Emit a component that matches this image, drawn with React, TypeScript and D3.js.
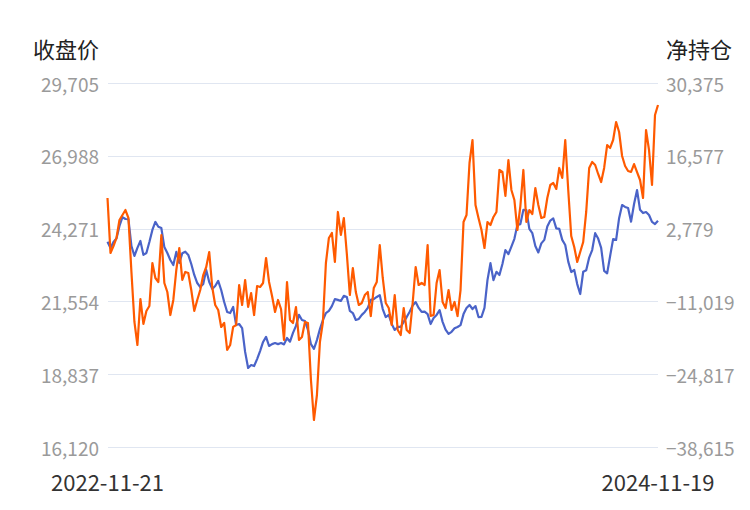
import React from "react";
import * as d3 from "d3";

const startDate = "2022-11-21";
const endDate = "2024-11-19";
const leftTitle = "收盘价";
const rightTitle = "净持仓";
const leftTicks = [16120, 18837, 21554, 24271, 26988, 29705];
const rightTicks = [-38615, -24817, -11019, 2779, 16577, 30375];

const closePrice = [
  23780, 23550, 23770, 23900, 24370, 24700, 24630, 24620, 23620, 23250,
  23550, 23810, 23290, 23360, 23770, 24220, 24520, 24340, 24290, 23580,
  23360, 23100, 22910, 23400, 22990, 23350, 23410, 23290, 22950, 22540,
  22240, 22090, 22200, 22730, 22280, 22020, 22130, 22320, 21980, 21530,
  21160, 21120, 21350, 20670, 20710, 20560, 19670, 19070, 19180, 19140,
  19400, 19700, 20040, 20230, 19890, 19960, 20000, 19960, 20000, 19950,
  20190, 20050, 20380, 20640, 21050, 20860, 20820, 20490, 19960, 19780,
  20110, 20520, 20860, 21120, 21200, 21380, 21640, 21610, 21570, 21760,
  21720, 21200, 21120, 20860, 20900, 21050, 21160, 21310, 21610, 21640,
  21720, 21790, 21270, 20970, 21050, 20710, 20490, 20600, 20600, 20790,
  20970, 21170, 21400, 21530, 21310, 21160, 21170, 21080, 20710, 20930,
  21050, 21230, 20790, 20500, 20340, 20420, 20550, 20600, 20670, 21080,
  21310, 21420, 21270, 21380, 20970, 20980, 21310, 22350, 22980, 22350,
  22660, 22540, 22950, 23470, 23320, 23600, 23890, 24410, 24440, 24970,
  24960, 24260, 24100, 23620, 23380, 23720, 23850, 24350, 24570, 24650,
  24280, 24260, 23850, 23660, 23040, 22650, 22730, 22200, 21830, 22660,
  22720, 23190, 23470, 24100, 23900, 23550, 22690, 22600, 23250, 23880,
  23850, 24660, 25150, 25080, 25040, 24530, 25190, 25710, 24970, 24850,
  24890, 24780, 24520, 24440, 24560,
];

const netPosition = [
  8580, -1850, -520, 1000, 4410, 5360, 6300, 4790, -5450, -14920,
  -19280, -10560, -15300, -12840, -11890, -3740, -6580, -7340, 1570, -7530,
  -9240, -13600, -10750, -5070, -900, -6960, -5440, -5640, -8860, -12830,
  -10750, -8860, -6020, -4500, -1660, -8290, -11700, -12650, -15870, -15110,
  -20230, -19280, -15860, -15490, -7910, -11700, -6960, -12080, -9430, -13600,
  -8100, -8290, -7530, -2790, -7340, -10000, -13030, -10750, -12460, -18330,
  -7340, -14540, -15110, -12080, -18330, -17770, -14920, -15110, -25920, -33500,
  -28760, -18710, -14920, -3740, 1000, 1950, -3550, 5930, 1570, 4790,
  -2040, -9810, -4690, -9240, -11700, -11320, -9810, -9240, -13790, -8480,
  -7340, -330, -6580, -11320, -12270, -15490, -9810, -16440, -17390, -12270,
  -16440, -17010, -11320, -4500, -7910, -7530, -7910, -330, -13790, -13600,
  -7530, -5070, -11130, -12270, -8860, -12650, -11130, -13790, -8860, 4030,
  5360, 15210, 19570, 7250, 4790, 2510, -900, 4030, 3460, 4980,
  5930, 13890, 13510, 8960, 15780, 10100, 8200, 2510, 7060, 13890,
  4030, 6300, 5550, 10470, 7250, 4790, 4980, 8580, 11040, 11420,
  10290, 14270, 12370, 19570, 10100, 1380, -710, -3550, -1660, 240,
  5930, 14270, 15400, 14830, 13130, 11610, 14270, 18620, 18060, 19570,
  22980, 21090, 16540, 14640, 13700, 13510, 15020, 13500, 11990, 8580,
  21470, 17680, 11040, 24310, 26210,
];

const FONT = "'Noto Sans CJK SC', 'Noto Sans', sans-serif";

export default function App() {
  const W = 750;
  const H = 510;
  const left = 107.5;
  const right = 658;
  const top = 83;
  const bottom = 447;

  const parse = d3.timeParse("%Y-%m-%d");
  const t0 = parse(startDate) as Date;
  const t1 = parse(endDate) as Date;
  const n = closePrice.length;
  const dates = closePrice.map(
    (_, i) => new Date(+t0 + (i / (n - 1)) * (+t1 - +t0))
  );

  const x = d3.scaleTime().domain([t0, t1]).range([left, right]);
  const yL = d3
    .scaleLinear()
    .domain([leftTicks[0], leftTicks[leftTicks.length - 1]])
    .range([bottom, top]);
  const yR = d3
    .scaleLinear()
    .domain([rightTicks[0], rightTicks[rightTicks.length - 1]])
    .range([bottom, top]);

  const lineL = d3
    .line<number>()
    .x((_, i) => x(dates[i]))
    .y((d) => yL(d));
  const lineR = d3
    .line<number>()
    .x((_, i) => x(dates[i]))
    .y((d) => yR(d));

  const fmt = d3.format(",");
  const dfmt = d3.timeFormat("%Y-%m-%d");

  return (
    <div style={{ position: "absolute", left: 0, top: 0 }}>
      <svg width={W} height={H} style={{ display: "block", fontFamily: FONT }}>
        <rect width={W} height={H} fill="#ffffff" />
        {leftTicks.map((t) => (
          <line
            key={"g" + t}
            x1={108}
            x2={right}
            y1={Math.round(yL(t)) + 0.5}
            y2={Math.round(yL(t)) + 0.5}
            stroke="#E0E6F1"
            strokeWidth={1}
          />
        ))}
        {leftTicks.map((t) => (
          <text
            key={"l" + t}
            x={99}
            y={yL(t)}
            textAnchor="end"
            dominantBaseline="central"
            fontSize={19}
            fill="#9a9a9a"
          >
            {fmt(t)}
          </text>
        ))}
        {rightTicks.map((t) => (
          <text
            key={"r" + t}
            x={666}
            y={yR(t)}
            textAnchor="start"
            dominantBaseline="central"
            fontSize={19}
            fill="#9a9a9a"
          >
            {fmt(t)}
          </text>
        ))}
        <text x={99} y={48} textAnchor="end" dominantBaseline="central" fontSize={22} fill="#222">
          {leftTitle}
        </text>
        <text x={666} y={48} textAnchor="start" dominantBaseline="central" fontSize={22} fill="#222">
          {rightTitle}
        </text>
        <path d={lineL(closePrice) || ""} fill="none" stroke="#4A63C8" strokeWidth={2.2} strokeLinejoin="round" />
        <path d={lineR(netPosition) || ""} fill="none" stroke="#FF5A00" strokeWidth={2.2} strokeLinejoin="round" />
        <text x={x(t0)} y={481} textAnchor="middle" dominantBaseline="central" fontSize={22} fill="#333">
          {dfmt(t0)}
        </text>
        <text x={x(t1)} y={481} textAnchor="middle" dominantBaseline="central" fontSize={22} fill="#333">
          {dfmt(t1)}
        </text>
      </svg>
    </div>
  );
}
